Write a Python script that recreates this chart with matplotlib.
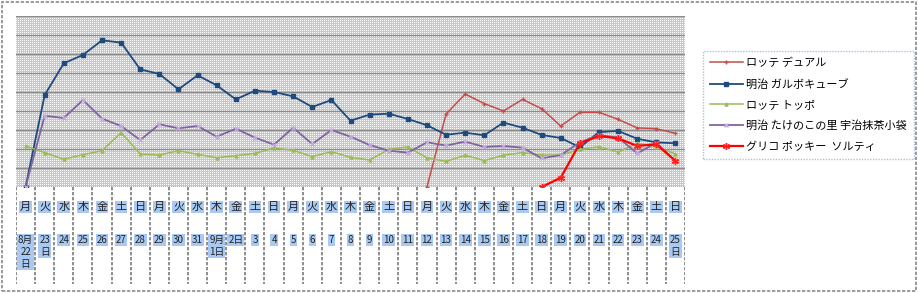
import matplotlib
matplotlib.use("Agg")
import matplotlib.pyplot as plt
import numpy as np

plt.rcParams['font.family'] = ['Noto Sans CJK JP', 'DejaVu Sans']

# categories (one column per day, 8/22 - 9/25)
days = ['月', '火', '水', '木', '金', '土', '日'] * 5
dates = ['8月\n22\n日', '23\n日', '24', '25', '26', '27', '28', '29', '30', '31',
         '9月\n1日', '2日', '3', '4', '5', '6', '7', '8', '9', '10', '11', '12',
         '13', '14', '15', '16', '17', '18', '19', '20', '21', '22', '23', '24', '25\n日']

# series values (arbitrary units); None = no data yet
dual = [None] * 21 + [0, 3.84, 4.89, 4.39, 4.0, 4.61, 4.12, 3.21, 3.93, 3.93, 3.56, 3.11, 3.07, 2.82]
garbo = [0, 4.84, 6.51, 6.95, 7.72, 7.6, 6.19, 5.95, 5.14, 5.88, 5.35, 4.61, 5.07, 5.0, 4.77,
         4.21, 4.58, 3.49, 3.81, 3.86, 3.58, 3.25, 2.75, 2.86, 2.72, 3.39, 3.12, 2.74, 2.58,
         2.09, 2.89, 2.95, 2.54, 2.35, 2.30]
toppo = [2.16, 1.81, 1.46, 1.7, 1.91, 2.86, 1.74, 1.68, 1.91, 1.72, 1.54, 1.65, 1.77, 2.05,
         1.93, 1.6, 1.86, 1.56, 1.42, 1.98, 2.11, 1.53, 1.35, 1.67, 1.39, 1.67, 1.81, 1.68,
         1.68, 1.98, 2.12, 1.84, 2.3, 2.12, 1.74]
takenoko = [0, 3.75, 3.63, 4.58, 3.6, 3.21, 2.47, 3.3, 3.09, 3.21, 2.65, 3.07, 2.6, 2.23, 3.12,
            2.26, 3.0, 2.65, 2.21, 1.91, 1.81, 2.35, 2.18, 2.39, 2.11, 2.16, 2.07, 1.51, 1.68,
            2.35, 2.74, 2.6, 1.77, 2.33, 1.37]
pocky = [None] * 27 + [0, 0.49, 2.3, 2.68, 2.56, 2.16, 2.25, 1.37]

names = ['ロッテ デュアル', '明治 ガルボキューブ', 'ロッテ トッポ',
         '明治 たけのこの里 宇治抹茶小袋', 'グリコ ポッキー  ソルティ']

W, H = 918, 293
fig = plt.figure(figsize=(W / 100, H / 100), dpi=100)

# dashed outer frame
fig.patches.append(plt.Rectangle((2 / W, 2 / H), 1 - 4 / W, 1 - 4 / H, transform=fig.transFigure,
                                 fill=False, edgecolor='#8a8a8a', linestyle=(0, (2, 1)), linewidth=1.2))

L, R, T, B = 16, 685, 16, 187
ax = fig.add_axes([L / W, 1 - B / H, (R - L) / W, (B - T) / H])
x = np.arange(len(days))
ax.set_xlim(-0.5, len(days) - 0.5)
ax.set_ylim(0, 9)

# dotted pattern fill like the Excel plot area
pat = np.full((B - T, R - L), 0.78)
pat[::2, ::2] = 1.0
ax.imshow(pat, cmap='gray', vmin=0, vmax=1, extent=(-0.5, len(days) - 0.5, 0, 9),
          aspect='auto', interpolation='nearest', zorder=0)

ax.set_yticks(np.arange(0, 10))
ax.yaxis.grid(True, color='#8c8c8c', linewidth=1, zorder=1)
ax.tick_params(left=False, bottom=False, labelleft=False, labelbottom=False)
for s in ax.spines.values():
    s.set_visible(False)


def series(vals):
    return np.array([np.nan if v is None else v for v in vals], dtype=float)


ax.plot(x, series(dual), color='#c0504d', lw=1.1, marker='+', ms=2.5, label=names[0], zorder=3)
ax.plot(x, series(garbo), color='#1f4a7e', lw=1.3, marker='s', ms=2.2, label=names[1], zorder=3)
ax.plot(x, series(toppo), color='#9bbb59', lw=1.1, marker='^', ms=2.2, label=names[2], zorder=3)
ax.plot(x, series(takenoko), color='#8064a2', lw=1.3, marker='x', ms=3.5, mec='#c6a8e0',
        label=names[3], zorder=3)
ax.plot(x, series(pocky), color='#ff0000', lw=1.6, marker=(6, 2, 0), ms=5, mec='#ff2020',
        label=names[4], zorder=4)

# table of days / dates below the plot
tab = fig.add_axes([L / W, 1 - 284 / H, (R - L) / W, (284 - B) / H])
tab.set_xlim(-0.5, len(days) - 0.5)
tab.set_ylim(97, 0)
tab.axis('off')
tab.vlines(np.arange(len(days) + 1) - 0.5, 0, 97, colors='#7a7a7a', linestyles=(0, (2, 1)),
           linewidth=1.2)
hl = dict(facecolor='#a9c9f2', edgecolor='none', pad=0.6)
for i, (d, t) in enumerate(zip(days, dates)):
    tab.text(i, 20, d, ha='center', va='center', fontsize=8, color='#222222', bbox=hl)
    tab.text(i, 48, t, ha='center', va='top', fontsize=7, color='#222222', bbox=hl,
             linespacing=1.25)

leg = fig.legend(loc='upper left', bbox_to_anchor=(703 / W, 1 - 51 / H), fontsize=8,
                 frameon=True, fancybox=False, handlelength=3.0, handletextpad=0.3,
                 labelspacing=0.95, borderpad=0.6, borderaxespad=0)
leg.get_frame().set_edgecolor('#8fb4dc')
leg.get_frame().set_linestyle((0, (1, 1)))
leg.get_frame().set_linewidth(1)

fig.savefig('out.png', dpi=100)
